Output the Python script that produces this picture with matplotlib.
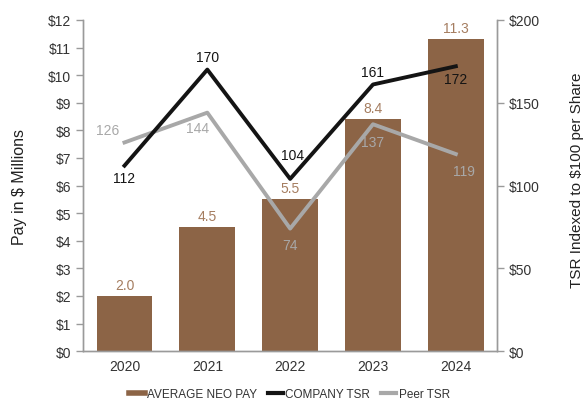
import numpy as np
import matplotlib
matplotlib.use("Agg")
import matplotlib.pyplot as plt
from matplotlib.lines import Line2D

plt.rcParams['font.family'] = ['Liberation Sans', 'DejaVu Sans']

# --- data ---
years = ["2020", "2021", "2022", "2023", "2024"]
neo_pay = [2.0, 4.5, 5.5, 8.4, 11.3]
company_tsr = [112, 170, 104, 161, 172]
peer_tsr = [126, 144, 74, 137, 119]

BAR = '#8c6446'
BAR_TXT = '#a57d60'
BLACK = '#141414'
GREY = '#a8a8a8'
AXIS = '#9a9a9a'
TXT = '#333333'

fig = plt.figure(figsize=(5.85, 4.02), dpi=100)
ax = fig.add_axes([0.142, 0.124, 0.708, 0.824])
ax2 = ax.twinx()

x = np.arange(len(years))
ax.bar(x, neo_pay, width=0.675, color=BAR, zorder=1)
for xi, v in zip(x, neo_pay):
    ax.text(xi, v + 0.15, f"{v:.1f}", ha='center', va='bottom', color=BAR_TXT, fontsize=10)

ax.set_xlim(-0.5, 4.5)
ax.set_ylim(0, 12)
ax.set_yticks(range(0, 13))
ax.set_yticklabels([f"${v}" for v in range(0, 13)])
ax.set_xticks(x)
ax.set_xticklabels(years)
ax.set_ylabel("Pay in $ Millions", fontsize=11.5, color='#222222')
ax.yaxis.set_label_coords(-0.135, 0.5)

ax2.set_ylim(0, 200)
ax2.set_yticks([0, 50, 100, 150, 200])
ax2.set_yticklabels([f"${v}" for v in [0, 50, 100, 150, 200]])
ax2.set_ylabel("TSR Indexed to $100 per Share", fontsize=11, color='#222222',
               rotation=90, va='center')
ax2.yaxis.set_label_coords(1.192, 0.52)

ax2.plot(x, peer_tsr, color=GREY, lw=2.8, zorder=3)
ax2.plot(x, company_tsr, color=BLACK, lw=2.8, zorder=4)

# labels for company TSR
comp_off = [(0, -9), (0, 9), (2, 17), (0, 9), (0, -9)]
for xi, v, (dx, dy) in zip(x, company_tsr, comp_off):
    ax2.annotate(str(v), (xi, v), xytext=(dx, dy), textcoords='offset points',
                 ha='center', va='center', color=BLACK, fontsize=10)

# labels for peer TSR
peer_off = [(-12, 9), (-7, -11), (0, -12), (0, -13), (6, -12)]
for xi, v, (dx, dy) in zip(x, peer_tsr, peer_off):
    ax2.annotate(str(v), (xi, v), xytext=(dx, dy), textcoords='offset points',
                 ha='center', va='center', color=GREY, fontsize=10)

for a in (ax, ax2):
    a.spines['top'].set_visible(False)
    for s in ('left', 'right', 'bottom'):
        a.spines[s].set_color(AXIS)
        a.spines[s].set_linewidth(1.0)
    a.tick_params(colors=AXIS, labelcolor=TXT, labelsize=10, length=5, width=1)
ax.tick_params(axis='x', length=0, pad=6)
ax.set_zorder(ax2.get_zorder() - 1)
ax.patch.set_visible(False)

handles = [Line2D([0], [0], color=BAR, lw=4),
           Line2D([0], [0], color=BLACK, lw=3),
           Line2D([0], [0], color=GREY, lw=3)]
fig.legend(handles, ["AVERAGE NEO PAY", "COMPANY TSR", "Peer TSR"],
           loc='center', bbox_to_anchor=(0.495, 0.018), ncol=3, frameon=False,
           fontsize=8.5, handlelength=1.3, handletextpad=0.2, columnspacing=0.9,
           labelcolor=TXT)

fig.savefig("out.png", dpi=100)
